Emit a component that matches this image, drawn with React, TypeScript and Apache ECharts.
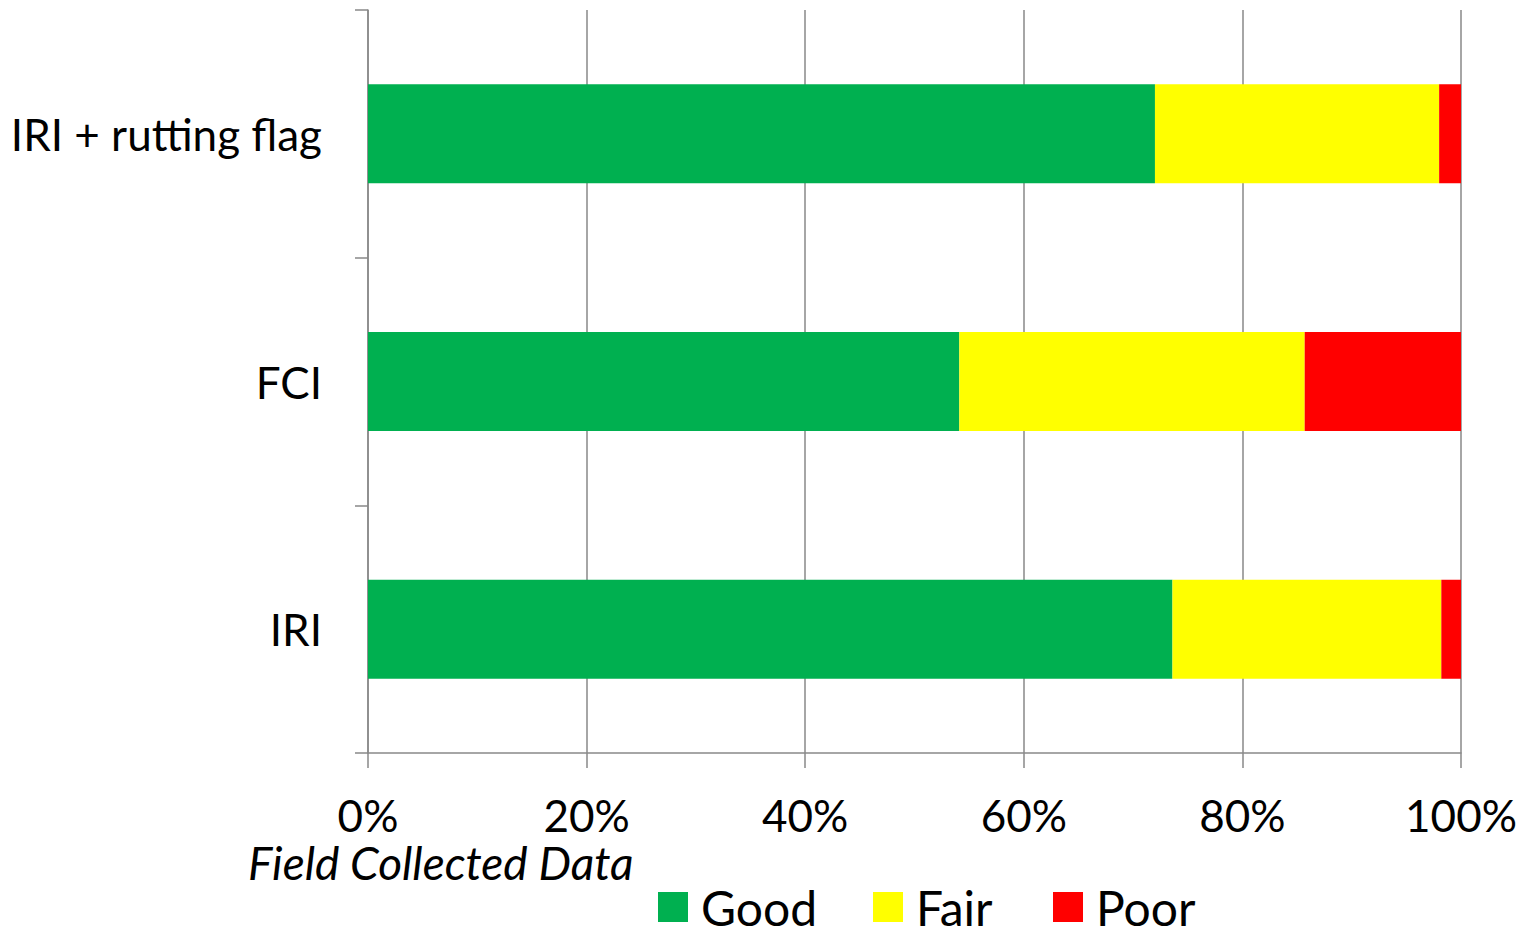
import React, { useEffect, useRef } from "react";
import * as echarts from "echarts";

const categories = ["IRI + rutting flag", "FCI", "IRI"];
const goodValues = [72.0, 54.1, 73.6];
const fairValues = [26.0, 31.6, 24.6];
const poorValues = [2.0, 14.3, 1.8];
const seriesNames = ["Good", "Fair", "Poor"];
const seriesColors = ["#00B050", "#FFFF00", "#FF0000"];
const axisTitle = "Field Collected Data";

const FONT = "Lato, 'Open Sans', sans-serif";
const legendLefts = [658, 873, 1053];

export default function App() {
  const ref = useRef<HTMLDivElement>(null);
  useEffect(() => {
    if (!ref.current) return;
    const chart = echarts.init(ref.current, null, { renderer: "svg" });
    const gray = "#898989";
    const values = [goodValues, fairValues, poorValues];
    chart.setOption({
      animation: false,
      textStyle: { fontFamily: FONT },
      grid: { left: 368, right: 63, top: 10, bottom: 174, containLabel: false },
      xAxis: {
        type: "value",
        min: 0,
        max: 100,
        interval: 20,
        axisLine: { show: true, lineStyle: { color: gray, width: 1.5 } },
        axisTick: { show: true, length: 15, lineStyle: { color: gray, width: 1.5 } },
        splitLine: { show: true, lineStyle: { color: gray, width: 1.5 } },
        axisLabel: {
          formatter: "{value}%",
          fontSize: 44,
          lineHeight: 40,
          color: "#000",
          fontFamily: FONT,
          margin: 42,
        },
      },
      yAxis: {
        type: "category",
        inverse: true,
        data: categories,
        axisLine: { show: true, lineStyle: { color: gray, width: 1.5 } },
        axisTick: { show: true, length: 13, lineStyle: { color: gray, width: 1.5 } },
        axisLabel: { fontSize: 44, color: "#000", fontFamily: FONT, margin: 46 },
        splitLine: { show: false },
      },
      legend: seriesNames.map((name, i) => ({
        left: legendLefts[i] - 5,
        top: 878,
        padding: 5,
        itemWidth: 30,
        itemHeight: 30,
        icon: "rect",
        textStyle: {
          fontSize: 48,
          lineHeight: 36,
          color: "#000",
          fontFamily: FONT,
          padding: [0, 0, 0, 8],
        },
        data: [name],
      })),
      graphic: [
        {
          type: "text",
          left: 248,
          top: 839,
          style: {
            text: axisTitle,
            fontSize: 46,
            lineHeight: 40,
            fontStyle: "italic",
            fontFamily: FONT,
            fill: "#000",
          },
        },
      ],
      series: seriesNames.map((name, i) => ({
        name,
        type: "bar",
        stack: "total",
        barWidth: 99,
        itemStyle: { color: seriesColors[i] },
        data: values[i],
      })),
    });
    return () => chart.dispose();
  }, []);
  return (
    <div
      ref={ref}
      style={{ position: "fixed", left: 0, top: 0, width: 1524, height: 927, background: "#fff" }}
    />
  );
}
